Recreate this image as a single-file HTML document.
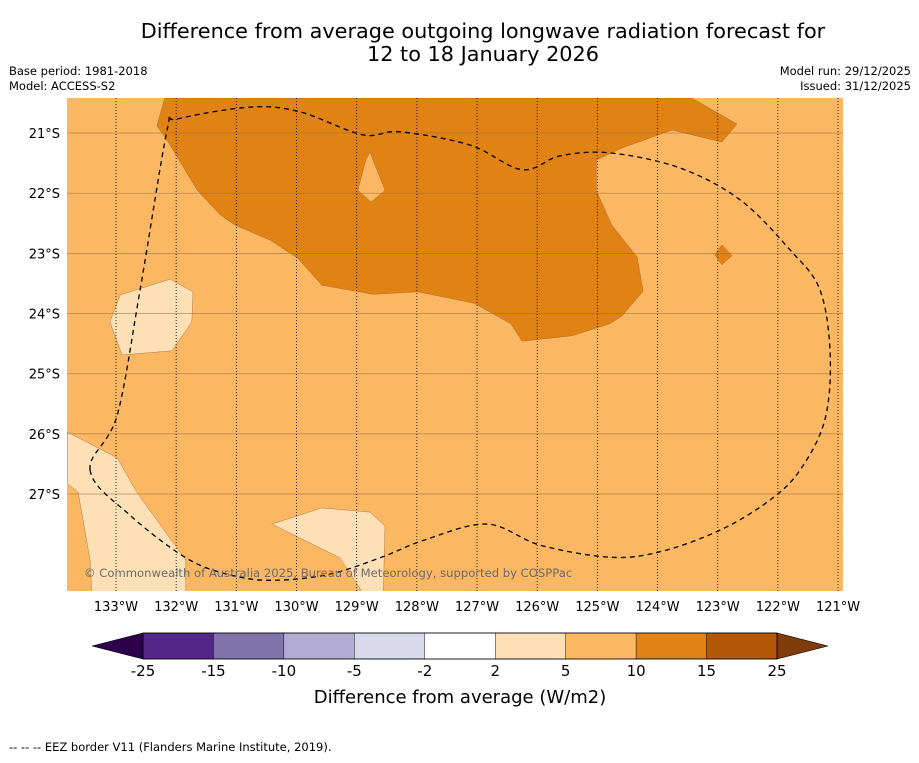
<!DOCTYPE html>
<html><head><meta charset="utf-8"><style>
body{margin:0;background:#fff;font-family:"Liberation Sans","DejaVu Sans",sans-serif;}
svg text{font-family:"DejaVu Sans","Liberation Sans",sans-serif;}
</style></head><body>
<svg id="chart" width="919" height="758" xmlns="http://www.w3.org/2000/svg">
<text x="483" y="38" font-size="20.8" text-anchor="middle">Difference from average outgoing longwave radiation forecast for</text>
<text x="483" y="61" font-size="20.8" text-anchor="middle">12 to 18 January 2026</text>
<text x="9" y="75" font-size="11.5">Base period: 1981-2018</text>
<text x="9" y="90" font-size="11.5">Model: ACCESS-S2</text>
<text x="911" y="75" font-size="11.5" text-anchor="end">Model run: 29/12/2025</text>
<text x="911" y="90" font-size="11.5" text-anchor="end">Issued: 31/12/2025</text>
<defs><clipPath id="mapclip"><rect x="67" y="98" width="776" height="493"/></clipPath></defs>
<g id="map" clip-path="url(#mapclip)"></g>
<g id="axes"></g>
<g id="cbar"></g>
<text x="460" y="703" font-size="18" text-anchor="middle">Difference from average (W/m2)</text>
<text x="9" y="751" font-size="11.5">--  --  -- EEZ border V11 (Flanders Marine Institute, 2019).</text>
</svg>
<script>
const lonTicks=[-133,-132,-131,-130,-129,-128,-127,-126,-125,-124,-123,-122,-121];
const latTicks=[-21,-22,-23,-24,-25,-26,-27];
const cbLevels=["-25","-15","-10","-5","-2","2","5","10","15","25"];
const cbColors=["#542788","#8073ac","#b2abd2","#d8daeb","#ffffff","#fee0b6","#fdb863","#e08214","#b35806"];
const darkRegion=[[-132.19,-20.42],[-123.43,-20.42],[-122.68,-20.85],[-122.93,-21.15],[-123.76,-20.95],[-124.59,-21.25],[-125.02,-21.45],[-125.02,-21.95],[-124.76,-22.53],[-124.34,-23.06],[-124.24,-23.63],[-124.59,-24.04],[-124.79,-24.17],[-125.42,-24.37],[-126.25,-24.46],[-126.44,-24.17],[-127.05,-23.83],[-127.98,-23.64],[-128.73,-23.68],[-129.58,-23.53],[-129.98,-23.08],[-130.44,-22.78],[-131.02,-22.53],[-131.27,-22.36],[-131.65,-21.95],[-132.15,-21.12],[-132.32,-20.88]];
const lightHole=[[-128.78,-21.32],[-128.53,-21.95],[-128.76,-22.15],[-128.98,-21.95],[-128.85,-21.45]];
const darkDiamond=[[-122.93,-22.86],[-122.76,-23.04],[-122.93,-23.19],[-123.05,-23.02]];
const paleLeft=[[-132.93,-23.69],[-132.10,-23.43],[-131.72,-23.64],[-131.74,-24.14],[-132.07,-24.62],[-132.90,-24.69],[-133.10,-24.14]];
const paleBottomLeft=[[-133.81,-25.97],[-132.98,-26.40],[-132.65,-26.98],[-131.84,-28.10],[-131.84,-28.7],[-133.40,-28.7],[-133.43,-28.10],[-133.63,-26.97],[-133.81,-26.82]];
const paleBottomMid=[[-130.41,-27.50],[-129.58,-27.23],[-128.78,-27.30],[-128.53,-27.53],[-128.56,-28.7],[-128.86,-28.7],[-129.28,-28.06]];
const eez=[[-133.43,-26.60],[-132.98,-25.69],[-132.60,-23.61],[-132.15,-20.95],[-131.99,-20.77],[-130.77,-20.57],[-129.94,-20.65],[-128.90,-21.03],[-128.28,-20.98],[-127.12,-21.20],[-126.25,-21.61],[-125.62,-21.38],[-124.79,-21.33],[-123.63,-21.58],[-122.63,-22.11],[-121.80,-22.94],[-121.30,-23.61],[-121.13,-24.69],[-121.22,-25.77],[-121.63,-26.60],[-122.13,-27.10],[-122.96,-27.60],[-123.96,-27.96],[-124.79,-28.05],[-125.95,-27.85],[-126.83,-27.50],[-127.86,-27.76],[-128.61,-28.06],[-129.44,-28.33],[-130.27,-28.43],[-130.94,-28.38],[-131.77,-28.10],[-132.77,-27.35],[-133.43,-26.60]];
const NS="http://www.w3.org/2000/svg";
const xS=lon=>116+(lon+133)*60.17;
const yS=lat=>133+(-21-lat)*60.17;
function mk(tag,attrs,parent){const e=document.createElementNS(NS,tag);for(const k in attrs)e.setAttribute(k,attrs[k]);parent.appendChild(e);return e;}
const map=document.getElementById('map'),axes=document.getElementById('axes'),cbar=document.getElementById('cbar');
const bg=mk('rect',{x:67,y:98,width:776,height:493,fill:'#fbb762'},map);


function poly(pts,fill,name){const p=mk('polygon',{points:pts.map(q=>xS(q[0]).toFixed(1)+','+yS(q[1]).toFixed(1)).join(' '),fill:fill,stroke:'#a0622a','stroke-width':0.4},map);

}
poly(darkRegion,'#e08214','contour-10-15');
poly(lightHole,'#fbb762','contour-5-10-hole');
poly(darkDiamond,'#e08214','contour-10-15-small');
poly(paleLeft,'#fee0b6','contour-2-5-left');
poly(paleBottomLeft,'#fee0b6','contour-2-5-bottom-left');
poly(paleBottomMid,'#fee0b6','contour-2-5-bottom-mid');
latTicks.forEach(v=>{const l=mk('line',{x1:67,x2:843,y1:yS(v),y2:yS(v),stroke:'#9a6a3a','stroke-width':0.7,opacity:0.7},map);

});
lonTicks.forEach(v=>{const l=mk('line',{x1:xS(v),x2:xS(v),y1:98,y2:591,stroke:'#000','stroke-width':0.8,'stroke-dasharray':'1,2'},map);

});
// smooth closed curve through EEZ points (Catmull-Rom)
const P=eez.slice(0,-1).map(q=>[xS(q[0]),yS(q[1])]);const n=P.length;
let d='M'+P[0][0].toFixed(1)+','+P[0][1].toFixed(1);
for(let i=0;i<n;i++){const p0=P[(i-1+n)%n],p1=P[i],p2=P[(i+1)%n],p3=P[(i+2)%n];
const c1=[p1[0]+(p2[0]-p0[0])/6,p1[1]+(p2[1]-p0[1])/6],c2=[p2[0]-(p3[0]-p1[0])/6,p2[1]-(p3[1]-p1[1])/6];
d+=` C${c1[0].toFixed(1)},${c1[1].toFixed(1)} ${c2[0].toFixed(1)},${c2[1].toFixed(1)} ${p2[0].toFixed(1)},${p2[1].toFixed(1)}`;}
const e=mk('path',{d:d,fill:'none',stroke:'#000','stroke-width':1.3,'stroke-dasharray':'5,4'},map);


const cp=mk('text',{x:84,y:577,'font-size':11.6,fill:'#6b6b6b'},map);cp.textContent='© Commonwealth of Australia 2025, Bureau of Meteorology, supported by COSPPac';


lonTicks.forEach(v=>{const t=mk('text',{x:xS(v),y:611,'font-size':13,'text-anchor':'middle'},axes);t.textContent=Math.abs(v)+'°W';

});
latTicks.forEach(v=>{const t=mk('text',{x:60,y:yS(v)+5,'font-size':13,'text-anchor':'end'},axes);t.textContent=Math.abs(v)+'°S';

});
const cx0=143,cx1=777,cy=633,ch=26,sw=(cx1-cx0)/cbColors.length;
const lt=mk('polygon',{points:`${cx0},${cy} ${cx0},${cy+ch} 92,${cy+ch/2}`,fill:'#2d004b',stroke:'#000','stroke-width':0.6},cbar);


const rt=mk('polygon',{points:`${cx1},${cy} ${cx1},${cy+ch} 828,${cy+ch/2}`,fill:'#7f3b08',stroke:'#000','stroke-width':0.6},cbar);


cbColors.forEach((c,i)=>{const r=mk('rect',{x:cx0+i*sw,y:cy,width:sw,height:ch,fill:c,stroke:'#000','stroke-width':0.4},cbar);

});
mk('rect',{x:cx0,y:cy,width:cx1-cx0,height:ch,fill:'none',stroke:'#000','stroke-width':0.8},cbar);
cbLevels.forEach((s,i)=>{const t=mk('text',{x:cx0+i*sw,y:676,'font-size':15,'text-anchor':'middle'},cbar);t.textContent=s;

});
</script>
</body></html>
